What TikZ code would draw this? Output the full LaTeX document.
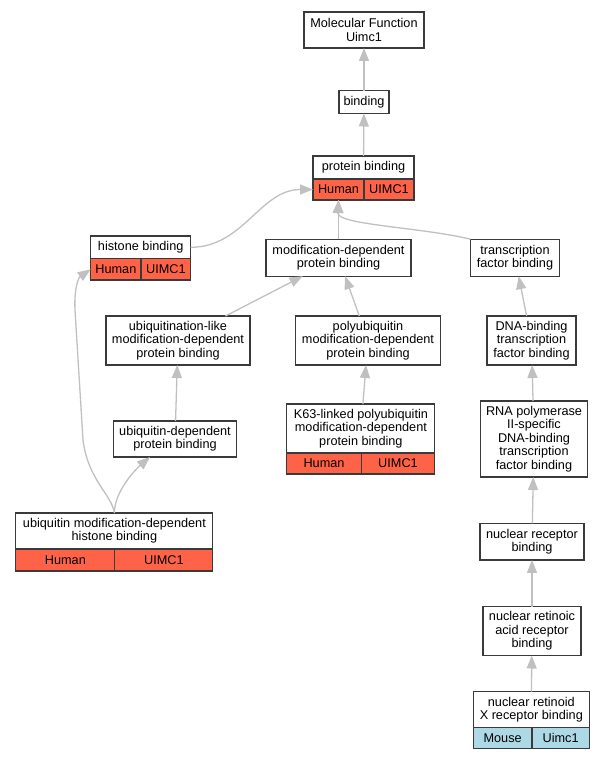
\documentclass[tikz,border=0pt]{standalone}
\usepackage{fontspec}
\setmainfont{Liberation Sans}
\usetikzlibrary{arrows.meta,positioning}
\definecolor{tomato}{HTML}{FF6347}
\definecolor{lightblue}{HTML}{ADD8E6}
\definecolor{edgegray}{HTML}{C0C0C0}
\definecolor{boxline}{HTML}{3A3A3A}

\begin{document}
\begin{tikzpicture}[x=1pt, y=-1pt, node distance=0pt,
    every node/.style={outer sep=0pt, inner sep=0pt},
    term/.style={draw=boxline, line width=1.1pt, fill=white, align=center,
      font=\fontsize{12.7}{13.4}\selectfont},
    human/.style={term, fill=tomato},
    mouse/.style={term, fill=lightblue},
    isa/.style={draw=edgegray, line width=1.3pt, -{Triangle[length=13pt,width=10pt]}}]
  \useasboundingbox (0,0) rectangle (605,760);

  % top of the tree
  \node (mf) [term, minimum width=120pt, minimum height=36pt] at (364,30) {Molecular Function\\Uimc1};
  \node (bind) [term, minimum width=50pt, minimum height=23pt] at (364,102) {binding};
  \node (prot) [term, minimum width=101pt, minimum height=23pt] at (363.5,167.5) {protein binding};
  \node (prot-h) [human, minimum width=51pt, minimum height=21pt, anchor=north west] at (prot.south west) {Human};
  \node (prot-u) [human, minimum width=50pt, minimum height=21pt, right=of prot-h] {UIMC1};

  % second row
  \node (hist) [term, minimum width=100pt, minimum height=22.7pt] at (140.7,247.3) {histone binding};
  \node (hist-h) [human, minimum width=50.3pt, minimum height=21.3pt, anchor=north west] at (hist.south west) {Human};
  \node (hist-u) [human, minimum width=49.7pt, minimum height=21.3pt, right=of hist-h] {UIMC1};
  \node (moddep) [term, minimum width=145pt, minimum height=37pt] at (338.5,257.7) {modification-dependent\\protein binding};
  \node (tfb) [term, minimum width=89pt, minimum height=37pt] at (515,257.7) {transcription\\factor binding};

  % third row
  \node (ubl) [term, minimum width=144pt, minimum height=49pt] at (178,340.5) {ubiquitination-like\\modification-dependent\\protein binding};
  \node (polyub) [term, minimum width=145pt, minimum height=49pt] at (368,340.5) {polyubiquitin\\modification-dependent\\protein binding};
  \node (dnatfb) [term, minimum width=89pt, minimum height=49pt] at (531.5,340.5) {DNA-binding\\transcription\\factor binding};

  % fourth row
  \node (ubdep) [term, minimum width=123pt, minimum height=36pt] at (175,439) {ubiquitin-dependent\\protein binding};
  \node (k63) [term, minimum width=148pt, minimum height=49pt] at (360.9,428.5) {K63-linked polyubiquitin\\modification-dependent\\protein binding};
  \node (k63-h) [human, minimum width=74.2pt, minimum height=21pt, anchor=north west] at (k63.south west) {Human};
  \node (k63-u) [human, minimum width=73.8pt, minimum height=21pt, right=of k63-h] {UIMC1};
  \node (rnapol) [term, minimum width=107pt, minimum height=76pt] at (534,439) {RNA polymerase\\II-specific\\DNA-binding\\transcription\\factor binding};

  % lower part
  \node (umdhb) [term, minimum width=197pt, minimum height=36pt] at (114.4,531) {ubiquitin modification-dependent\\histone binding};
  \node (umdhb-h) [human, minimum width=99pt, minimum height=22pt, anchor=north west] at (umdhb.south west) {Human};
  \node (umdhb-u) [human, minimum width=98pt, minimum height=22pt, right=of umdhb-h] {UIMC1};
  \node (nrb) [term, minimum width=104pt, minimum height=36.5pt] at (532,541.7) {nuclear receptor\\binding};
  \node (nrarb) [term, minimum width=98pt, minimum height=49pt] at (532,631) {nuclear retinoic\\acid receptor\\binding};
  \node (rxr) [term, minimum width=116pt, minimum height=36pt] at (531.3,709.7) {nuclear retinoid\\X receptor binding};
  \node (rxr-m) [mouse, minimum width=58.7pt, minimum height=20.6pt, anchor=north west] at (rxr.south west) {Mouse};
  \node (rxr-u) [mouse, minimum width=57.3pt, minimum height=20.6pt, right=of rxr-m] {Uimc1};

  % is-a links, child to parent
  \draw [isa] (bind) -- (mf);
  \draw [isa] (prot) -- (bind);
  \draw [isa] (hist.east) to[out=0, in=180] (prot-h.west);
  \draw [isa] (moddep.north) -- (prot-h.south);
  \draw [isa] (tfb.north west) .. controls (420,227) and (337,225) .. (prot-h.south);
  \draw [isa] (ubl) -- (moddep);
  \draw [isa] (polyub) -- (moddep);
  \draw [isa] (dnatfb) -- (tfb);
  \draw [isa] (ubdep) -- (ubl);
  \draw [isa] (k63) -- (polyub);
  \draw [isa] (rnapol) -- (dnatfb);
  \draw [isa] (nrb) -- (rnapol);
  \draw [isa] (nrarb) -- (nrb);
  \draw [isa] (rxr) -- (nrarb);
  \draw [isa] (umdhb.north) .. controls +(0,-22) and +(-14,12) .. ([xshift=-25pt]ubdep.south);
  \draw [isa] (umdhb.north) .. controls (112,495) and (88,480) .. (83,440)
    -- (75,310) .. controls (74,290) and (78,278) .. (hist-h.west);
\end{tikzpicture}
\end{document}
